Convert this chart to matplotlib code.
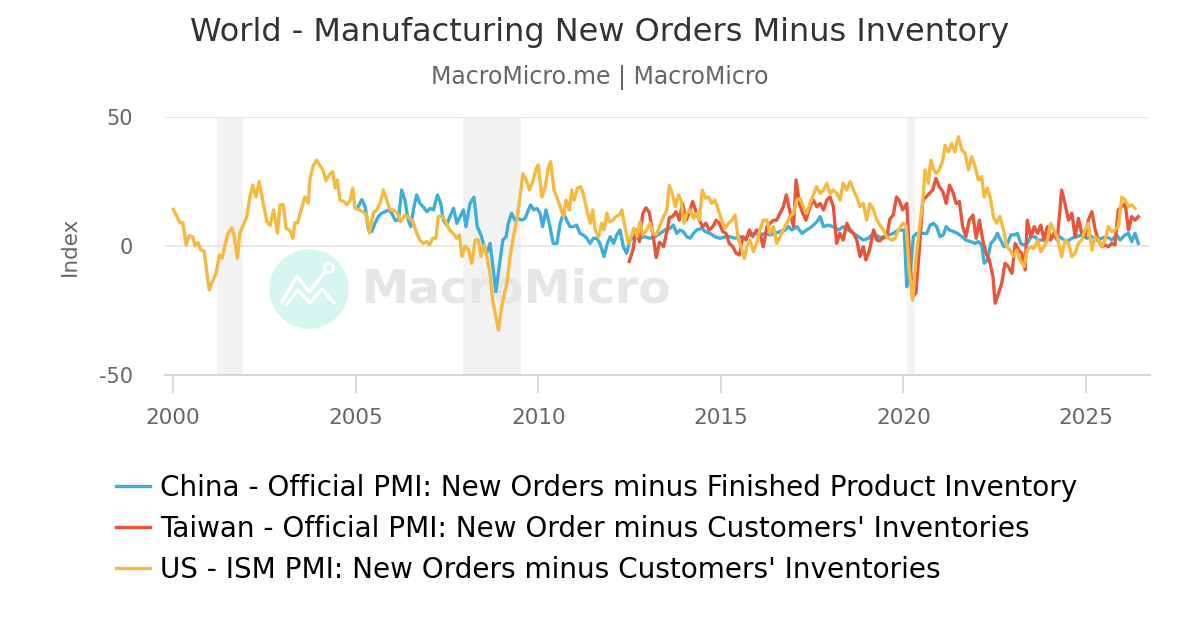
import numpy as np
import matplotlib
matplotlib.use("Agg")
import matplotlib.pyplot as plt
from matplotlib.patches import Ellipse
from matplotlib.lines import Line2D

plt.rcParams["axes.unicode_minus"] = False

# years since 2000 / index values
us_yr = [0.01, 0.19, 0.27, 0.36, 0.44, 0.54, 0.60, 0.68, 0.76, 0.85, 0.99, 1.10, 1.18, 1.27, 1.34, 1.45,
         1.51, 1.61, 1.67, 1.76, 1.83, 1.92, 2.02, 2.09, 2.18, 2.27, 2.36, 2.47, 2.57, 2.66, 2.75, 2.86,
         2.93, 3.02, 3.09, 3.20, 3.28, 3.34, 3.41, 3.52, 3.61, 3.70, 3.75, 3.83, 3.93, 4.03, 4.10, 4.19,
         4.27, 4.37, 4.44, 4.50, 4.57, 4.68, 4.76, 4.85, 4.92, 4.98, 5.10, 5.19, 5.30, 5.38, 5.48, 5.58,
         5.67, 5.76, 5.85, 5.94, 6.03, 6.14, 6.23, 6.35, 6.47, 6.58, 6.67, 6.76, 6.85, 6.95, 7.02, 7.11,
         7.20, 7.26, 7.38, 7.48, 7.57, 7.66, 7.77, 7.84, 7.91, 8.00, 8.09, 8.18, 8.27, 8.36, 8.43, 8.52,
         8.59, 8.68, 8.75, 8.84, 8.91, 9.00, 9.14, 9.23, 9.32, 9.41, 9.50, 9.58, 9.67, 9.76, 9.85, 9.94,
         10.00, 10.10, 10.19, 10.28, 10.34, 10.43, 10.52, 10.60, 10.69, 10.76, 10.85, 10.92, 10.98, 11.07,
         11.16, 11.23, 11.33, 11.42, 11.49, 11.56, 11.65, 11.74, 11.80, 11.88, 11.95, 12.04, 12.13, 12.22,
         12.29, 12.38, 12.47, 12.56, 12.62, 12.71, 12.79, 12.86, 12.97, 13.06, 13.14, 13.23, 13.32, 13.43,
         13.52, 13.59, 13.68, 13.75, 13.84, 13.91, 13.99, 14.07, 14.16, 14.25, 14.34, 14.41, 14.49, 14.58,
         14.67, 14.75, 14.84, 14.93, 15.02, 15.12, 15.21, 15.30, 15.39, 15.48, 15.54, 15.64, 15.71, 15.80,
         15.89, 15.98, 16.07, 16.16, 16.26, 16.35, 16.44, 16.53, 16.62, 16.71, 16.80, 16.89, 16.99, 17.08,
         17.17, 17.26, 17.35, 17.44, 17.53, 17.62, 17.72, 17.81, 17.90, 17.99, 18.08, 18.17, 18.26, 18.35,
         18.45, 18.54, 18.63, 18.72, 18.81, 18.90, 18.99, 19.08, 19.18, 19.27, 19.36, 19.45, 19.54, 19.68,
         19.77, 19.86, 19.98, 20.07, 20.16, 20.25, 20.34, 20.44, 20.53, 20.59, 20.68, 20.75, 20.82, 20.89,
         20.98, 21.08, 21.14, 21.23, 21.32, 21.41, 21.50, 21.60, 21.69, 21.78, 21.87, 21.96, 22.05, 22.14,
         22.21, 22.30, 22.39, 22.46, 22.55, 22.64, 22.74, 22.83, 22.92, 23.01, 23.10, 23.19, 23.30, 23.39,
         23.49, 23.58, 23.67, 23.76, 23.85, 23.94, 24.03, 24.12, 24.21, 24.33, 24.42, 24.52, 24.61, 24.70,
         24.79, 24.88, 24.97, 25.06, 25.16, 25.25, 25.34, 25.43, 25.52, 25.61, 25.70, 25.79, 25.88, 25.98,
         26.07, 26.16, 26.25, 26.34]
us_val = [14.2, 9, 9, 0.4, 4, 3.5, 0, 1.3, -1.5, -2, -17, -13, -10.5, -3.5, -4.7, 1.7,
          5, 7, 4.3, -4.7, 5, 8, 11.4, 17.8, 23.6, 19, 25, 16.6, 9.4, 8, 14, 5,
          16, 16, 7, 6, 3, 9, 9, 14.6, 19, 16.6, 26, 30.7, 33.3, 31, 29.5, 25.3,
          27.5, 28.8, 22.5, 25.6, 17.8, 17.2, 16, 17.8, 22.5, 14.7, 14, 13.3, 12, 5, 12.8, 14,
          16.6, 21.7, 17.8, 14, 14, 12.8, 9.4, 12, 10.8, 9, 5, 2.3, 1, 1.7, 0.4, 3,
          3, 11.4, 11.4, 9, 6.2, 5, 3, 4.3, -4, 0, -1.5, -6.7, 2.3, 2.3, -4, 0.4,
          -4, -10.6, -21, -27.4, -32.6, -23.5, -14.5, -4, 3.6, 10, 19, 28, 25.6, 21.7, 25, 30,
          31.4, 19, 23, 30.7, 32.7, 21.7, 18.6, 15.2, 11.4, 17.8, 14, 21.7, 17.8, 22.4,
          23, 20.4, 14, 8.8, 14, 6.2, 3.6, 8.8, 6.2, 12.7, 9.4, 10, 11.4, 12,
          14, 6.9, 1, 4.3, 6.9, 3.6, 9.4, 4.3, 6.2, 8.8, 4.9, 4.3, 7.5, 11.4,
          14, 23.6, 19.8, 15.2, 19.8, 17.8, 8.8, 12.7, 14, 10.7, 12.7, 10, 21.7, 18.5,
          19, 16.5, 17.8, 14, 10, 6.9, 8.8, 10, 12, 2.3, 0.4, -4.8, -0.3, 2.3,
          -2.2, 1, 6.2, 10, 10, 4.9, 7.5, 1, 3.6, 6.2, 8.8, 11.4, 12.7, 17.8,
          18.5, 15.2, 12.7, 16.5, 19.8, 23, 20.4, 21.7, 24.3, 20.4, 21.7, 20.4, 17.8, 24.3,
          21.7, 25, 21.7, 19, 15.2, 16.5, 10, 16.5, 14, 10, 8, 6.2, 3.6, 2.3,
          3, 6.2, 8.8, 8.1, -9.3, -21, -5.4, 7.5, 17.8, 29.5, 24.3, 33.3, 30, 28.2,
          29.5, 33.3, 39, 36.5, 39.8, 36.5, 42.4, 37.2, 35.9, 29.5, 34.6, 30.7, 25.6, 26.9,
          19, 22.4, 17.8, 11.4, 8.8, 11.4, 6.2, -0.3, -1.6, -4.1, -1.6, -5.4, -8, -1.6,
          -0.3, -0.9, 2.3, -2.2, -0.3, 2.3, 8.8, 6.2, 3.6, -4.1, 2.3, 1, -4.1, -2.8,
          1, 2.3, 6.2, 8.8, -1.6, 3.6, 2.3, -0.3, 2.3, 7.5, 5.6, 6.2, 7.5, 19,
          17.8, 15.2, 16, 14.6]

cn_yr = [5.07, 5.17, 5.26, 5.35, 5.44, 5.53, 5.62, 5.71, 5.81, 5.90, 5.99, 6.08, 6.17, 6.26, 6.35, 6.44,
         6.51, 6.58, 6.67, 6.76, 6.85, 6.95, 7.04, 7.13, 7.24, 7.33, 7.40, 7.49, 7.58, 7.68, 7.77, 7.86,
         7.95, 8.02, 8.13, 8.24, 8.33, 8.43, 8.52, 8.59, 8.68, 8.77, 8.84, 8.93, 9.03, 9.12, 9.18, 9.27,
         9.36, 9.45, 9.55, 9.64, 9.73, 9.79, 9.88, 9.96, 10.05, 10.12, 10.21, 10.30, 10.41, 10.51, 10.60,
         10.69, 10.78, 10.87, 10.96, 11.05, 11.14, 11.23, 11.33, 11.42, 11.51, 11.60, 11.69, 11.80, 11.89,
         11.97, 12.06, 12.15, 12.24, 12.33, 12.42, 12.51, 12.65, 12.79, 12.92, 13.06, 13.20, 13.34, 13.47,
         13.61, 13.70, 13.79, 13.88, 13.97, 14.07, 14.16, 14.25, 14.34, 14.48, 14.57, 14.70, 14.84, 14.98,
         15.12, 15.25, 15.39, 15.53, 15.66, 15.80, 15.94, 16.07, 16.21, 16.35, 16.48, 16.62, 16.76, 16.85,
         16.94, 17.08, 17.22, 17.35, 17.49, 17.63, 17.72, 17.81, 17.94, 18.08, 18.22, 18.35, 18.49, 18.63,
         18.77, 18.90, 19.04, 19.18, 19.31, 19.45, 19.59, 19.72, 19.86, 20.02, 20.09, 20.18, 20.27, 20.36,
         20.50, 20.64, 20.73, 20.82, 20.91, 21.00, 21.09, 21.17, 21.26, 21.37, 21.48, 21.60, 21.71, 21.84,
         21.96, 22.05, 22.14, 22.21, 22.30, 22.39, 22.48, 22.57, 22.66, 22.75, 22.85, 22.94, 23.03, 23.12,
         23.21, 23.30, 23.39, 23.49, 23.60, 23.69, 23.83, 23.97, 24.09, 24.20, 24.33, 24.47, 24.61, 24.74,
         24.88, 25.02, 25.16, 25.29, 25.43, 25.57, 25.70, 25.84, 25.93, 26.07, 26.16, 26.25, 26.34, 26.43]
cn_val = [15.2, 18, 15.2, 6.2, 5.6, 8.8, 11.4, 12.7, 13.3, 14, 12.7, 10, 10, 21.7, 17.8, 10,
          7.5, 14, 19.8, 16.5, 15.2, 13.3, 14.6, 14, 19.8, 16.5, 10, 8.1, 11.4, 14.6, 8.8, 11.4,
          14, 7.5, 16.5, 18.9, 7.5, 4.3, -0.3, -2.8, 1, -9.3, -17.7, -8, 2.3, 3.6, 8.8, 12.7,
          10, 10.7, 10, 10.7, 14, 15.9, 14, 14.6, 12.7, 7.5, 14, 8.8, 1, 1, 8.8,
          12.7, 10, 7.5, 7.5, 8.1, 4.9, 4.3, 3, 1, 3, 3, 1, -4.1, 1,
          3.6, 1, 4.3, 6.2, -0.3, -2.8, 2.3, 3.6, 3, 3.6, 3, 3.6, 4.9, 6.2,
          6.9, 8.1, 4.9, 6.2, 5.6, 3.6, 3, 4.9, 6.2, 6.9, 5.6, 4.9, 3.6, 3,
          3.6, 3.6, 3, 3.6, 3, 4.3, 4.9, 4.3, 4.9, 4.3, 4.9, 5.6, 6.2, 7.5,
          6.2, 7.5, 4.9, 6.2, 7.5, 9.4, 11.4, 7.5, 8.1, 7.5, 6.2, 7.5, 6.2, 4.9,
          3.6, 2.3, 3, 4.9, 3.6, 3, 4.3, 4.9, 6.2, 6.2, -15.8, -11.9, 3.6, 4.9,
          4.9, 4.9, 8.1, 8.8, 7.5, 3.6, 4.3, 7.5, 6.2, 5.6, 4.9, 3.6, 2.3, 1.7,
          1, 1.7, 0.4, -6.7, -5.4, 1, 2.3, 4.9, 2.3, -0.3, 1, 4.3, 4.3, 4.9,
          1, 0.4, 1, 3.6, 3.6, 2.3, 2.3, 3, 3.6, 4.3, 3, 1.7, 3, 3.6,
          4.3, 3, 3.6, 2.3, 3, 3.6, 2.3, 4.3, 2.3, 4.3, 4.9, 1.7, 4.9, 1]

tw_yr = [12.49, 12.59, 12.68, 12.77, 12.86, 12.95, 13.04, 13.14, 13.23, 13.32, 13.43, 13.52, 13.59, 13.68,
         13.77, 13.86, 13.95, 14.05, 14.14, 14.23, 14.32, 14.41, 14.50, 14.59, 14.68, 14.78, 14.87, 14.96,
         15.05, 15.14, 15.23, 15.33, 15.42, 15.51, 15.60, 15.69, 15.78, 15.87, 15.98, 16.07, 16.16, 16.26,
         16.35, 16.44, 16.53, 16.62, 16.71, 16.79, 16.88, 16.99, 17.06, 17.15, 17.24, 17.33, 17.44, 17.53,
         17.63, 17.72, 17.81, 17.90, 17.99, 18.08, 18.17, 18.26, 18.35, 18.45, 18.54, 18.63, 18.72, 18.81,
         18.90, 18.97, 19.07, 19.18, 19.27, 19.36, 19.45, 19.54, 19.63, 19.72, 19.81, 19.88, 19.98, 20.09,
         20.16, 20.25, 20.34, 20.44, 20.53, 20.62, 20.71, 20.80, 20.89, 20.98, 21.08, 21.17, 21.26, 21.35,
         21.44, 21.53, 21.62, 21.71, 21.80, 21.90, 21.99, 22.08, 22.17, 22.26, 22.35, 22.45, 22.51, 22.60,
         22.69, 22.78, 22.87, 22.97, 23.06, 23.15, 23.24, 23.33, 23.39, 23.49, 23.58, 23.67, 23.76, 23.85,
         23.94, 24.03, 24.12, 24.21, 24.33, 24.42, 24.52, 24.61, 24.70, 24.79, 24.88, 24.97, 25.06, 25.16,
         25.25, 25.34, 25.43, 25.52, 25.61, 25.70, 25.79, 25.88, 25.98, 26.07, 26.16, 26.25, 26.34, 26.43]
tw_val = [-6, -1.6, 6.2, 1.7, 12.5, 14.8, 13, 4.5, -4.5, 1.5, -0.3, 5.5, 11, 11.4,
          13.3, 10, 16.5, 10, 13.3, 17.2, 13.3, 10, 7.5, 8.8, 6.2, 7.5, 10, 8.8,
          5.6, 4.9, 1, -0.3, -2.8, -3.5, 3.6, 2.3, 6.2, 3.6, 6.2, 4.9, -0.3, 7.5,
          8.8, 10, 10, 12.7, 15.2, 19.8, 14, 7.5, 25.6, 16.5, 12.7, 10, 15.2, 17.8,
          15.2, 16.5, 14, 17.8, 19, 15.2, 1, 4.9, 2.3, 8.8, 6.2, 4.9, 2.3, -4.1,
          -0.3, -5.4, -1.6, 6.2, 2.3, 2, 3.6, 3.6, 10.5, 12, 19, 17.8, 14, 16.5,
          -2.8, -19.6, -18.3, -0.3, 17.8, 19, 20.4, 21.7, 26.2, 23, 21, 16.5, 23.6, 21,
          16.5, 17.2, 7.5, 3.6, 10, 12, 3, 10, 2.3, -2.8, -5.4, -11.9, -22.2, -18.3,
          -14.5, -6.7, -8, -10.6, 1, -1.6, -2.8, -9.3, 10, 3.6, 7.5, 4.9, 8.1, 2.3,
          7.5, 2.3, 4.9, 2.3, 21.7, 16.5, 10, 12.7, 3.6, 10.7, 4.9, 3.6, 10, 13.3,
          6.2, 2.3, -0.3, 0.4, -0.3, 1, 0.4, 14, 15.2, 16.5, 6.2, 11.4, 10, 11.4]

# US recessions (shaded)
recessions = [(2001.21, 2001.91), (2007.95, 2009.52), (2020.11, 2020.31)]

labels = ["China - Official PMI: New Orders minus Finished Product Inventory",
          "Taiwan - Official PMI: New Order minus Customers' Inventories",
          "US - ISM PMI: New Orders minus Customers' Inventories"]
colors = ["#3eaed9", "#e8553b", "#f6b93f"]

fig = plt.figure(figsize=(12, 6.3), dpi=100)
ax = fig.add_axes([165/1200, 1-375/630, 985/1200, 258/630])

for a, b in recessions:
    ax.axvspan(a, b, color="#f2f2f2", lw=0, zorder=0)

# watermark
ax.add_patch(Ellipse((309/1200, 1-289/630), 78/1200, 78/630, transform=fig.transFigure,
                     color="#d5f6ef", zorder=0.5, clip_on=False))
wx1 = [282, 297, 309, 325]
wy1 = [302, 276, 292, 272]
wx2 = [287, 298, 310, 322, 334]
wy2 = [304, 290, 303, 289, 303]
for xs, ys in ((wx1, wy1), (wx2, wy2)):
    ax.add_line(Line2D([v/1200 for v in xs], [1-v/630 for v in ys], transform=fig.transFigure,
                       color="white", lw=2.6, solid_capstyle="round", zorder=0.6, clip_on=False))
ax.add_patch(Ellipse((329/1200, 1-268/630), 9/1200, 9/630, transform=fig.transFigure,
                     fc="#d5f6ef", ec="white", lw=2.2, zorder=0.7, clip_on=False))
ax.text(362/1200, 1-290/630, "MacroMicro", transform=fig.transFigure, fontsize=34,
        fontweight="bold", color="#e6e6e6", va="center", ha="left", zorder=0.5)

ax.plot(2000 + np.array(cn_yr), cn_val, color=colors[0], lw=2.4, label=labels[0], zorder=2)
ax.plot(2000 + np.array(tw_yr), tw_val, color=colors[1], lw=2.4, label=labels[1], zorder=3)
ax.plot(2000 + np.array(us_yr), us_val, color=colors[2], lw=2.4, label=labels[2], zorder=4)

ax.set_xlim(1999.78, 2026.75)
ax.set_ylim(-50, 50)
ax.set_yticks([-50, 0, 50])
ax.set_xticks([2000, 2005, 2010, 2015, 2020, 2025])
ax.yaxis.grid(True, color="#e6e6e6", lw=1.3)
ax.set_axisbelow(True)
for s in ("top", "right", "left"):
    ax.spines[s].set_visible(False)
ax.spines["bottom"].set_color("#d3d3d3")
ax.spines["bottom"].set_linewidth(1.3)
ax.spines["bottom"].set_zorder(1)
ax.tick_params(axis="y", length=0, pad=23, labelsize=15, labelcolor="#666666")
ax.tick_params(axis="x", length=13, width=1.2, color="#d3d3d3", pad=11, labelsize=15.5,
               labelcolor="#666666")
ax.set_ylabel("Index", fontsize=15.5, color="#666666", labelpad=14)

fig.text(0.5, 1-33/630, "World - Manufacturing New Orders Minus Inventory", ha="center",
         va="center", fontsize=23, color="#333333")
fig.text(0.5, 1-78/630, "MacroMicro.me | MacroMicro", ha="center", va="center",
         fontsize=17, color="#666666")

fig.legend(loc="upper left", bbox_to_anchor=(116/1200, 1-474/630), frameon=False,
           fontsize=20.1, handlelength=1.2, handletextpad=0.38, labelspacing=0.47,
           borderpad=0, borderaxespad=0)

fig.savefig("out.png", dpi=100)
